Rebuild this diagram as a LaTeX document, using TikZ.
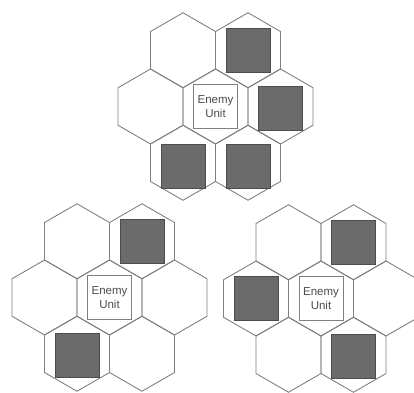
\documentclass[tikz,border=0pt]{standalone}
\usepackage{fontspec}
\setsansfont{Liberation Sans}
\usetikzlibrary{calc}

\tikzset{
  hexline/.style={draw=black!50, line width=0.9pt},
  unitbox/.style={draw=black!70, fill=black!58, minimum size=44pt, inner sep=0pt},
  enemybox/.style={draw=black!50, line width=0.9pt, fill=white, minimum size=44pt, inner sep=0pt,
    font=\sffamily\fontsize{11.5}{14}\selectfont, text=black!70, align=center},
}

\begin{document}
\begin{tikzpicture}[x=1pt,y=-1pt]
    \useasboundingbox (0,0) rectangle (414,392);

    % three clusters of seven hexes
    \foreach \cx/\cy in {215.5/106.5, 109.5/297.5, 321/298.5}{
      \foreach \dx/\dy in {0/0, -32.5/-56.25, 32.5/-56.25, -65/0, 65/0, -32.5/56.25, 32.5/56.25}{
        \draw[hexline, shift={(\cx+\dx,\cy+\dy)}]
          (30:37.5) -- (90:37.5) -- (150:37.5) -- (210:37.5) -- (270:37.5) -- (330:37.5) -- cycle;
      }
    }

    % top cluster
    \node[enemybox] (enemyTop) at (215.5,106.5) {Enemy\\Unit};
    \node[unitbox] (topNE) at (248,50.25) {};
    \node[unitbox] (topE) at (280.5,108) {};
    \node[unitbox] (topSW) at (183,166) {};
    \node[unitbox] (topSE) at (248,166) {};

    % lower left cluster
    \node[enemybox] (enemyLeft) at (109.5,297.5) {Enemy\\Unit};
    \node[unitbox] (leftNE) at (142,241.25) {};
    \node[unitbox] (leftSW) at (77,355) {};

    % lower right cluster
    \node[enemybox] (enemyRight) at (321,298.5) {Enemy\\Unit};
    \node[unitbox] (rightNE) at (353.5,242.25) {};
    \node[unitbox] (rightW) at (256,298.5) {};
    \node[unitbox] (rightSE) at (353.5,356) {};
\end{tikzpicture}
\end{document}
